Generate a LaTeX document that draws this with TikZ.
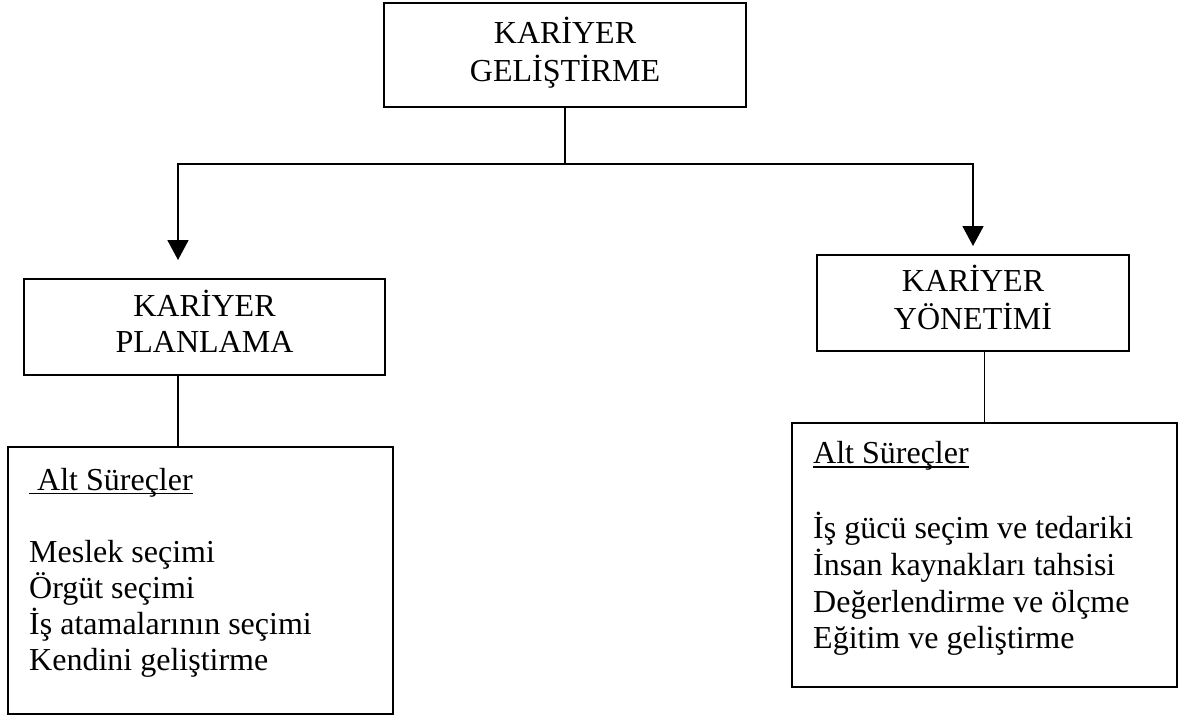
\documentclass[tikz,border=0pt]{standalone}
\usepackage{fontspec}
\setmainfont{Liberation Serif}
\usetikzlibrary{arrows.meta}
\newcommand\ulx[1]{\setbox0\hbox{#1}\rlap{\rule[-4pt]{\wd0}{1.6pt}}\box0}
\begin{document}
\begin{tikzpicture}[x=1pt,y=-1pt,
  box/.style={draw, line width=1.8pt, inner sep=0pt, align=center, font=\fontsize{32}{36}\selectfont},
  subbox/.style={draw, line width=1.8pt, inner sep=0pt},
  txt/.style={inner sep=0pt, anchor=north west, align=left},
  conn/.style={line width=1.8pt},
  arr/.style={conn, -{Triangle[length=20pt,width=21pt]}}]
\useasboundingbox (0,0) rectangle (1199,717);
% main boxes
\node[box, minimum width=362pt, minimum height=104pt] (gel) at (565,55) {\strut KARİYER\\\strut GELİŞTİRME};
\node[box, minimum width=361pt, minimum height=96pt] (pl) at (204.5,327) {\strut KARİYER\\\strut PLANLAMA};
\node[box, minimum width=312pt, minimum height=96pt] (ym) at (973,303) {\strut KARİYER\\\strut YÖNETİMİ};
% sub-process boxes
\node[subbox, minimum width=385pt, minimum height=267pt] (pls) at (200.5,580.5) {};
\node[subbox, minimum width=385pt, minimum height=264pt] (yms) at (984.5,555) {};
\node[txt, font=\fontsize{32}{36}\selectfont] (plt) at (29,464.8)
  {\strut\ulx{\ Alt Süreçler}\\[36pt]Meslek seçimi\\Örgüt seçimi\\İş atamalarının seçimi\\Kendini geliştirme};
\node[txt, font=\fontsize{32}{36.7}\selectfont] (ymt) at (813,437.8)
  {\strut\ulx{Alt Süreçler}\\[36.7pt]İş gücü seçim ve tedariki\\İnsan kaynakları tahsisi\\Değerlendirme ve ölçme\\Eğitim ve geliştirme};
% connectors
\coordinate (hl) at (178,164);
\coordinate (hr) at (973,164);
\coordinate (tl) at (178,260);
\coordinate (tr) at (973,246);
\draw[conn] (gel.south) -- (gel.south |- hl);
\draw[conn, line cap=rect] (hl) -- (hr);
\draw[arr] (hl) -- (tl);
\draw[arr] (hr) -- (tr);
\draw[conn] (pl.south -| hl) -- (pls.north -| hl);
\draw[conn] (ym.south -| yms.north) -- (yms.north);
\end{tikzpicture}
\end{document}
